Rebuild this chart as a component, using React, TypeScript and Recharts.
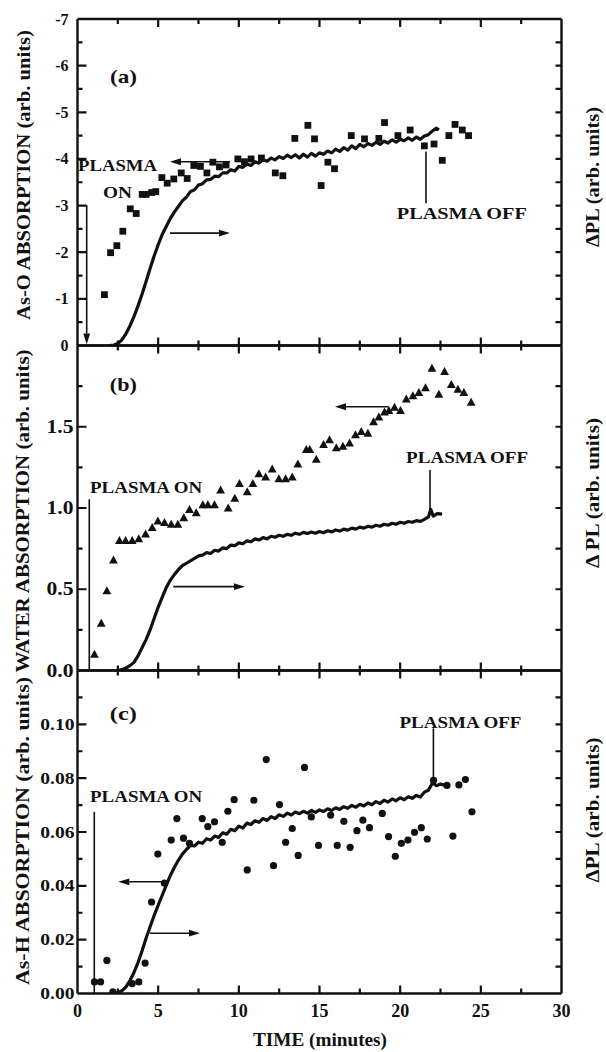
import React from 'react';
import { ComposedChart, Line, Scatter, XAxis, YAxis, ReferenceLine, ReferenceDot } from 'recharts';

const SERIF = '"Liberation Serif", "Times New Roman", serif';
const INK = '#111';

// shared time axis (minutes)
const timeTicks = [0, 2.5, 5, 7.5, 10, 12.5, 15, 17.5, 20, 22.5, 25, 27.5, 30];
const timeMajors = [0, 5, 10, 15, 20, 25, 30];

// (a) As-O absorption, squares (left axis, plotted negative upward)
const asoTime = [1.67, 2.05, 2.44, 2.81, 3.27, 3.64, 4.01, 4.26, 4.6, 4.85, 5.23, 5.56, 5.97, 6.43, 6.8, 7.21, 7.62, 8.02, 8.39, 8.8, 9.21, 9.94, 10.35, 10.76, 11.4, 12.26, 12.73, 13.47, 14.28, 14.69, 15.1, 15.52, 15.93, 16.97, 17.79, 18.68, 19.03, 19.86, 20.62, 21.5, 22.1, 22.61, 23.02, 23.4, 23.85, 24.24];
const asoAbs = [-1.09, -1.99, -2.14, -2.45, -2.93, -2.83, -3.24, -3.24, -3.28, -3.3, -3.6, -3.48, -3.57, -3.7, -3.58, -3.86, -3.84, -3.7, -3.93, -3.83, -3.87, -4.0, -3.94, -4.0, -4.02, -3.7, -3.64, -4.44, -4.72, -4.43, -3.43, -3.93, -3.79, -4.5, -4.43, -4.44, -4.78, -4.5, -4.62, -4.28, -4.32, -3.97, -4.5, -4.74, -4.62, -4.5];

// (a) delta PL trace (right axis)
const plATime = [2.0, 2.25, 2.5, 2.75, 3.0, 3.25, 3.5, 3.75, 4.0, 4.25, 4.5, 4.75, 5.0, 5.25, 5.5, 5.75, 6.0, 6.25, 6.5, 6.75, 7.0, 7.25, 7.5, 7.75, 8.0, 8.25, 8.5, 8.75, 9.0, 9.25, 9.5, 9.75, 10.0, 10.25, 10.5, 10.75, 11.0, 11.25, 11.5, 11.75, 12.0, 12.25, 12.5, 12.75, 13.0, 13.25, 13.5, 13.75, 14.0, 14.25, 14.5, 14.75, 15.0, 15.25, 15.5, 15.75, 16.0, 16.25, 16.5, 16.75, 17.0, 17.25, 17.5, 17.75, 18.0, 18.25, 18.5, 18.75, 19.0, 19.25, 19.5, 19.75, 20.0, 20.25, 20.5, 20.75, 21.0, 21.25, 21.5, 21.75, 22.0, 22.25, 22.4];
const plA = [0.0, 0.01, 0.04, 0.12, 0.25, 0.42, 0.62, 0.85, 1.1, 1.37, 1.65, 1.92, 2.16, 2.38, 2.55, 2.72, 2.86, 2.98, 3.1, 3.18, 3.3, 3.34, 3.44, 3.47, 3.55, 3.56, 3.63, 3.62, 3.7, 3.7, 3.77, 3.74, 3.84, 3.82, 3.89, 3.86, 3.94, 3.91, 3.98, 3.95, 4.02, 3.98, 4.05, 4.01, 4.08, 4.03, 4.09, 4.02, 4.1, 4.04, 4.12, 4.06, 4.13, 4.1, 4.17, 4.13, 4.21, 4.16, 4.24, 4.19, 4.28, 4.22, 4.31, 4.26, 4.33, 4.29, 4.36, 4.31, 4.38, 4.34, 4.41, 4.36, 4.42, 4.39, 4.45, 4.4, 4.47, 4.42, 4.49, 4.52, 4.6, 4.66, 4.62];

// (b) water absorption, triangles
const waterTime = [1.05, 1.47, 1.82, 2.23, 2.6, 2.98, 3.39, 3.8, 4.22, 4.63, 4.98, 5.39, 5.81, 6.22, 6.59, 6.94, 7.36, 7.77, 8.08, 8.49, 8.87, 9.34, 9.75, 10.04, 10.52, 10.87, 11.24, 11.66, 12.07, 12.48, 12.9, 13.31, 13.66, 14.18, 14.4, 14.8, 15.25, 15.62, 16.04, 16.45, 16.86, 17.23, 17.59, 18.0, 18.35, 18.68, 19.03, 19.3, 19.65, 20.02, 20.38, 20.79, 21.16, 21.57, 21.97, 22.4, 22.75, 23.17, 23.58, 23.95, 24.4];
const waterAbs = [0.1, 0.29, 0.49, 0.68, 0.8, 0.8, 0.8, 0.81, 0.84, 0.88, 0.92, 0.91, 0.9, 0.9, 0.94, 0.99, 0.97, 1.02, 1.02, 1.02, 1.11, 1.0, 1.06, 1.15, 1.1, 1.15, 1.21, 1.19, 1.24, 1.18, 1.18, 1.19, 1.27, 1.36, 1.36, 1.3, 1.39, 1.42, 1.37, 1.38, 1.4, 1.45, 1.47, 1.46, 1.53, 1.56, 1.59, 1.6, 1.62, 1.6, 1.67, 1.69, 1.71, 1.74, 1.86, 1.7, 1.84, 1.76, 1.73, 1.71, 1.65];

// (b) delta PL trace
const plBTime = [2.5, 2.75, 3.0, 3.25, 3.5, 3.75, 4.0, 4.25, 4.5, 4.75, 5.0, 5.25, 5.5, 5.75, 6.0, 6.25, 6.5, 6.75, 7.0, 7.25, 7.5, 7.75, 8.0, 8.25, 8.5, 8.75, 9.0, 9.25, 9.5, 9.75, 10.0, 10.25, 10.5, 10.75, 11.0, 11.25, 11.5, 11.75, 12.0, 12.25, 12.5, 12.75, 13.0, 13.25, 13.5, 13.75, 14.0, 14.25, 14.5, 14.75, 15.0, 15.25, 15.5, 15.75, 16.0, 16.25, 16.5, 16.75, 17.0, 17.25, 17.5, 17.75, 18.0, 18.25, 18.5, 18.75, 19.0, 19.25, 19.5, 19.75, 20.0, 20.25, 20.5, 20.75, 21.0, 21.25, 21.5, 21.75, 21.9, 22.05, 22.3, 22.6];
const plB = [0.0, 0.005, 0.015, 0.03, 0.05, 0.09, 0.14, 0.19, 0.25, 0.32, 0.39, 0.45, 0.51, 0.555, 0.59, 0.62, 0.645, 0.66, 0.675, 0.69, 0.705, 0.71, 0.725, 0.72, 0.74, 0.735, 0.755, 0.75, 0.772, 0.768, 0.785, 0.78, 0.798, 0.792, 0.81, 0.803, 0.818, 0.81, 0.826, 0.82, 0.832, 0.826, 0.838, 0.832, 0.845, 0.838, 0.85, 0.843, 0.852, 0.845, 0.855, 0.848, 0.86, 0.853, 0.865, 0.858, 0.87, 0.864, 0.876, 0.87, 0.882, 0.876, 0.888, 0.882, 0.894, 0.888, 0.9, 0.894, 0.906, 0.9, 0.912, 0.906, 0.917, 0.912, 0.922, 0.918, 0.93, 0.945, 0.99, 0.95, 0.965, 0.962];

// (c) As-H absorption, circles
const ashTime = [1.05, 1.43, 1.82, 2.19, 3.39, 3.8, 4.19, 4.59, 4.98, 5.39, 5.81, 6.16, 6.57, 6.94, 7.73, 8.08, 8.49, 8.97, 9.32, 9.71, 10.52, 10.93, 11.7, 12.15, 12.52, 12.9, 13.31, 13.68, 14.07, 14.49, 14.94, 15.69, 16.1, 16.51, 16.9, 17.32, 17.69, 18.1, 18.89, 19.28, 19.7, 20.07, 20.48, 20.89, 21.31, 21.68, 22.07, 22.9, 23.27, 23.64, 24.04, 24.45];
const ashAbs = [0.0043, 0.0043, 0.0123, 0.0006, 0.0037, 0.0043, 0.0113, 0.034, 0.0518, 0.041, 0.057, 0.065, 0.0577, 0.0558, 0.065, 0.062, 0.0638, 0.0562, 0.0677, 0.072, 0.0459, 0.0718, 0.0869, 0.0475, 0.0702, 0.0562, 0.0613, 0.0513, 0.084, 0.0656, 0.055, 0.0663, 0.055, 0.064, 0.0543, 0.0605, 0.0644, 0.0616, 0.0669, 0.0583, 0.051, 0.0558, 0.057, 0.0599, 0.0616, 0.0574, 0.0792, 0.0773, 0.0585, 0.0775, 0.0795, 0.0675];

// (c) delta PL trace
const plCTime = [2.25, 2.5, 2.75, 3.0, 3.25, 3.5, 3.75, 4.0, 4.25, 4.5, 4.75, 5.0, 5.25, 5.5, 5.75, 6.0, 6.25, 6.5, 6.75, 7.0, 7.25, 7.5, 7.75, 8.0, 8.25, 8.5, 8.75, 9.0, 9.25, 9.5, 9.75, 10.0, 10.25, 10.5, 10.75, 11.0, 11.25, 11.5, 11.75, 12.0, 12.25, 12.5, 12.75, 13.0, 13.25, 13.5, 13.75, 14.0, 14.25, 14.5, 14.75, 15.0, 15.25, 15.5, 15.75, 16.0, 16.25, 16.5, 16.75, 17.0, 17.25, 17.5, 17.75, 18.0, 18.25, 18.5, 18.75, 19.0, 19.25, 19.5, 19.75, 20.0, 20.25, 20.5, 20.75, 21.0, 21.25, 21.5, 21.75, 22.0, 22.25, 22.5, 22.75, 22.95];
const plC = [0.0, 0.0004, 0.001, 0.0024, 0.0048, 0.0078, 0.0115, 0.0158, 0.0205, 0.0248, 0.029, 0.0328, 0.0365, 0.0402, 0.0438, 0.0468, 0.0495, 0.0518, 0.0535, 0.055, 0.0548, 0.0562, 0.0558, 0.0575, 0.057, 0.0585, 0.058, 0.0597, 0.0592, 0.061, 0.0605, 0.0622, 0.0615, 0.0633, 0.0628, 0.0642, 0.0636, 0.065, 0.0643, 0.0657, 0.065, 0.0664, 0.0658, 0.067, 0.0663, 0.0674, 0.0668, 0.0677, 0.067, 0.068, 0.0673, 0.0682, 0.0676, 0.0686, 0.068, 0.069, 0.0684, 0.0694, 0.0688, 0.0699, 0.0692, 0.0703, 0.0697, 0.0708, 0.0701, 0.0713, 0.0706, 0.0718, 0.0711, 0.0723, 0.0716, 0.0727, 0.072, 0.0731, 0.0725, 0.0736, 0.073, 0.0748, 0.0755, 0.0782, 0.0772, 0.0778, 0.0774, 0.0777];

const zip = (xs: number[], ys: number[]) => xs.map((x, i) => ({ x, y: ys[i] }));

// ---------- layout ----------
const W = 606;
const PLOT_L = 77.5;
const PLOT_R = 561.5;
const LEFT_W = PLOT_L;
const RIGHT_W = W - PLOT_R;

// ---------- drawing helpers ----------
const glyphEm = (s: string) => [...s].reduce((a, c) => a + (c === '.' ? 0.25 : c === '-' ? 0.333 : 0.5), 0);
const near = (list: number[], v: number) => list.some((m) => Math.abs(m - v) < 1e-6);

interface LabelOpts { fmt: (v: number) => string; fs: number; stretch: number; gap: number }

const makeLabel = (side: 'left' | 'bottom', majors: number[], lab?: LabelOpts) => (p: any) => {
  const v = Number(p.payload?.value);
  if (!lab || !near(majors, v)) return <g />;
  const x = Number(p.x);
  const y = Number(p.y);
  const s = lab.fmt(v);
  const w = glyphEm(s) * lab.fs * lab.stretch;
  const common = {
    fontFamily: SERIF, fontSize: lab.fs, fontWeight: 'bold' as const, fill: INK, stroke: 'none',
    textLength: w, lengthAdjust: 'spacingAndGlyphs' as const, dominantBaseline: 'central' as const,
  };
  return side === 'left'
    ? <text x={x - lab.gap} y={y} textAnchor="end" {...common}>{s}</text>
    : <text x={x} y={y + lab.gap} textAnchor="middle" {...common}>{s}</text>;
};

const Square = (p: any) => <rect x={p.cx - 3.4} y={p.cy - 3.4} width={6.8} height={6.8} fill={INK} />;
const Tri = (p: any) => (
  <polygon points={`${p.cx},${p.cy - 4.6} ${p.cx + 4.4},${p.cy + 3.4} ${p.cx - 4.4},${p.cy + 3.4}`} fill={INK} />
);
const Dot = (p: any) => <circle cx={p.cx} cy={p.cy} r={3.6} fill={INK} />;

const arrowShape = (head: boolean) => (p: any) => {
  const x1 = Number(p.x1);
  const y1 = Number(p.y1);
  const x2 = Number(p.x2);
  const y2 = Number(p.y2);
  const dx = x2 - x1;
  const dy = y2 - y1;
  const L = Math.hypot(dx, dy) || 1;
  const ux = dx / L;
  const uy = dy / L;
  const hl = 11;
  const hw = 3.4;
  const bx = x2 - ux * hl;
  const by = y2 - uy * hl;
  return (
    <g>
      <line x1={x1} y1={y1} x2={head ? bx : x2} y2={head ? by : y2} stroke={INK} strokeWidth={1.6} />
      {head && (
        <polygon points={`${x2},${y2} ${bx - uy * hw},${by + ux * hw} ${bx + uy * hw},${by - ux * hw}`} fill={INK} />
      )}
    </g>
  );
};

const textShape = (label: string, w: number, fs = 17) => (p: any) => (
  <text
    x={p.cx}
    y={p.cy}
    textAnchor="middle"
    dominantBaseline="central"
    fontFamily={SERIF}
    fontWeight="bold"
    fontSize={fs}
    textLength={w}
    lengthAdjust="spacingAndGlyphs"
    fill={INK}
  >
    {label}
  </text>
);

interface Note { kind: 'arrow' | 'line' | 'text'; pts?: [number, number][]; x?: number; y?: number; label?: string; w?: number; fs?: number }

interface PanelSpec {
  top: number;
  height: number;
  margin: { top: number; bottom: number };
  leftDomain: [number, number];
  reversed?: boolean;
  leftTicks: number[];
  leftMajors: number[];
  leftLabel: LabelOpts;
  rightDomain: [number, number];
}

interface PanelProps extends PanelSpec {
  points: { x: number; y: number }[];
  shape: (p: any) => React.ReactElement;
  trace: { x: number; y: number }[];
  notes: Note[];
  showTime?: boolean;
}

const FRAME = 2.4;

const Panel = (pp: PanelProps) => {
  const [lo, hi] = pp.leftDomain;
  return (
    <div style={{ position: 'absolute', left: 0, top: pp.top }}>
      <ComposedChart width={W} height={pp.height} margin={{ top: pp.margin.top, bottom: pp.margin.bottom, left: 0, right: 0 }}>
        <XAxis
          dataKey="x"
          type="number"
          domain={[0, 30]}
          ticks={timeTicks}
          interval={0}
          allowDataOverflow
          height={1}
          tickSize={0}
          tickMargin={0}
          tickLine={false}
          axisLine={false}
          tick={pp.showTime ? makeLabel('bottom', timeMajors, { fmt: (v) => String(v), fs: 18, stretch: 1.0, gap: 17 }) : false}
        />
        <YAxis
          yAxisId="L"
          type="number"
          domain={pp.leftDomain}
          reversed={pp.reversed}
          ticks={pp.leftTicks}
          interval={0}
          allowDataOverflow
          width={LEFT_W}
          tickSize={0}
          tickMargin={0}
          tickLine={false}
          axisLine={false}
          tick={makeLabel('left', pp.leftMajors, pp.leftLabel)}
        />
        <YAxis
          yAxisId="R"
          orientation="right"
          type="number"
          domain={pp.rightDomain}
          allowDataOverflow
          width={RIGHT_W}
          tick={false}
          tickLine={false}
          axisLine={false}
        />
        {/* plot frame */}
        <ReferenceLine x={0} yAxisId="L" stroke={INK} strokeWidth={FRAME} />
        <ReferenceLine x={30} yAxisId="L" stroke={INK} strokeWidth={FRAME} />
        <ReferenceLine y={lo} yAxisId="L" stroke={INK} strokeWidth={FRAME} />
        <ReferenceLine y={hi} yAxisId="L" stroke={INK} strokeWidth={FRAME} />
        <Line
          data={pp.trace}
          dataKey="y"
          yAxisId="R"
          type="linear"
          stroke={INK}
          strokeWidth={3.2}
          strokeLinejoin="round"
          dot={false}
          activeDot={false}
          isAnimationActive={false}
        />
        <Scatter data={pp.points} dataKey="y" yAxisId="L" shape={pp.shape} isAnimationActive={false} />
        {pp.notes.map((n, i) =>
          n.kind === 'text' ? (
            <ReferenceDot key={i} x={n.x!} y={n.y!} yAxisId="L" r={0} shape={textShape(n.label!, n.w!, n.fs)} />
          ) : (
            <ReferenceLine
              key={i}
              yAxisId="L"
              segment={[{ x: n.pts![0][0], y: n.pts![0][1] }, { x: n.pts![1][0], y: n.pts![1][1] }]}
              shape={arrowShape(n.kind === 'arrow')}
            />
          ),
        )}
      </ComposedChart>
    </div>
  );
};

// inward tick marks on all four sides of a panel, same linear mapping as the chart axes
const PanelTicks = ({ spec }: { spec: PanelSpec }) => {
  const top = spec.top + spec.margin.top;
  const bottom = spec.top + spec.height - spec.margin.bottom - 1;
  const [lo, hi] = spec.leftDomain;
  const yOf = (v: number) => {
    const f = (v - lo) / (hi - lo);
    return spec.reversed ? top + f * (bottom - top) : bottom - f * (bottom - top);
  };
  const xOf = (t: number) => PLOT_L + (t / 30) * (PLOT_R - PLOT_L);
  let d = '';
  timeTicks
    .filter((t) => t > 0 && t < 30)
    .forEach((t) => {
      const len = near(timeMajors, t) ? 8 : 5;
      const x = xOf(t).toFixed(2);
      d += `M${x} ${top} V${top + len} M${x} ${bottom} V${bottom - len} `;
    });
  spec.leftTicks
    .filter((v) => v > lo + 1e-9 && v < hi - 1e-9)
    .forEach((v) => {
      const len = near(spec.leftMajors, v) ? 9 : 5;
      const y = yOf(v).toFixed(2);
      d += `M${PLOT_L} ${y} H${PLOT_L + len} M${PLOT_R} ${y} H${PLOT_R - 6} `;
    });
  return <path d={d} stroke={INK} strokeWidth={2.2} fill="none" />;
};

const specA: PanelSpec = {
  top: 0,
  height: 360,
  margin: { top: 19, bottom: 13.5 },
  leftDomain: [-7, 0],
  reversed: true,
  leftTicks: [-7, -6.5, -6, -5.5, -5, -4.5, -4, -3.5, -3, -2.5, -2, -1.5, -1, -0.5, 0],
  leftMajors: [-7, -6, -5, -4, -3, -2, -1, 0],
  leftLabel: { fmt: (v) => (v === 0 ? '0' : String(v)), fs: 16, stretch: 1.0, gap: 9 },
  rightDomain: [0, 7],
};

const specB: PanelSpec = {
  top: 330,
  height: 355,
  margin: { top: 15.5, bottom: 13.5 },
  leftDomain: [0, 2],
  leftTicks: [0, 0.25, 0.5, 0.75, 1, 1.25, 1.5, 1.75, 2],
  leftMajors: [0, 0.5, 1, 1.5],
  leftLabel: { fmt: (v) => v.toFixed(1), fs: 18, stretch: 1.2, gap: 4 },
  rightDomain: [0, 2],
};

const specC: PanelSpec = {
  top: 655,
  height: 397,
  margin: { top: 15.5, bottom: 57.5 },
  leftDomain: [0, 0.12],
  leftTicks: [0, 0.01, 0.02, 0.03, 0.04, 0.05, 0.06, 0.07, 0.08, 0.09, 0.1, 0.11],
  leftMajors: [0, 0.02, 0.04, 0.06, 0.08, 0.1],
  leftLabel: { fmt: (v) => v.toFixed(2), fs: 17, stretch: 1.15, gap: 3 },
  rightDomain: [0, 0.12],
};

const titleProps = {
  fontFamily: SERIF,
  fontWeight: 'bold' as const,
  fontSize: 18,
  fill: INK,
  textAnchor: 'middle' as const,
  dominantBaseline: 'central' as const,
  lengthAdjust: 'spacingAndGlyphs' as const,
};

const VTitle = ({ x, y, len, children }: { x: number; y: number; len: number; children: React.ReactNode }) => (
  <text transform={`translate(${x},${y}) rotate(-90)`} textLength={len} {...titleProps}>
    {children}
  </text>
);

export default function App() {
  return (
    <div style={{ position: 'absolute', left: 0, top: 0, width: W, height: 1052, background: '#fff' }}>
      <Panel
        {...specA}
        points={zip(asoTime, asoAbs)}
        shape={Square}
        trace={zip(plATime, plA)}
        notes={[
          { kind: 'text', x: 2.85, y: -5.76, label: '(a)', w: 27, fs: 19 },
          { kind: 'text', x: 2.48, y: -3.85, label: 'PLASMA', w: 79 },
          { kind: 'text', x: 2.48, y: -3.28, label: 'ON', w: 29 },
          { kind: 'arrow', pts: [[0.57, -3.01], [0.57, -0.02]] },
          { kind: 'arrow', pts: [[9.45, -3.94], [5.73, -3.94]] },
          { kind: 'arrow', pts: [[5.73, -2.41], [9.45, -2.41]] },
          { kind: 'line', pts: [[21.6, -4.16], [21.6, -3.05]] },
          { kind: 'text', x: 23.82, y: -2.82, label: 'PLASMA  OFF', w: 130 },
        ]}
      />
      <Panel
        {...specB}
        points={zip(waterTime, waterAbs)}
        shape={Tri}
        trace={zip(plBTime, plB)}
        notes={[
          { kind: 'text', x: 2.84, y: 1.757, label: '(b)', w: 27, fs: 19 },
          { kind: 'text', x: 4.25, y: 1.129, label: 'PLASMA ON', w: 112 },
          { kind: 'line', pts: [[0.73, 1.054], [0.73, 0]] },
          { kind: 'arrow', pts: [[5.94, 0.516], [10.38, 0.516]] },
          { kind: 'arrow', pts: [[19.27, 1.623], [15.96, 1.623]] },
          { kind: 'text', x: 24.15, y: 1.311, label: 'PLASMA OFF', w: 122 },
          { kind: 'line', pts: [[21.85, 1.234], [21.85, 0.988]] },
        ]}
      />
      <Panel
        {...specC}
        points={zip(ashTime, ashAbs)}
        shape={Dot}
        trace={zip(plCTime, plC)}
        showTime
        notes={[
          { kind: 'text', x: 2.84, y: 0.1042, label: '(c)', w: 27, fs: 19 },
          { kind: 'text', x: 4.25, y: 0.0732, label: 'PLASMA ON', w: 112 },
          { kind: 'line', pts: [[1.04, 0.0675], [1.04, 0]] },
          { kind: 'arrow', pts: [[5.63, 0.0415], [2.53, 0.0415]] },
          { kind: 'arrow', pts: [[4.49, 0.0224], [7.59, 0.0224]] },
          { kind: 'text', x: 23.74, y: 0.1005, label: 'PLASMA OFF', w: 122 },
          { kind: 'line', pts: [[22.06, 0.0985], [22.06, 0.0799]] },
        ]}
      />
      <svg width={W} height={1052} style={{ position: 'absolute', left: 0, top: 0, pointerEvents: 'none' }}>
        <PanelTicks spec={specA} />
        <PanelTicks spec={specB} />
        <PanelTicks spec={specC} />
        <VTitle x={24} y={175} len={290}>As-O ABSORPTION (arb. units)</VTitle>
        <VTitle x={23} y={511} len={323}>WATER  ABSORPTION (arb. units)</VTitle>
        <VTitle x={23} y={831} len={308}>As-H ABSORPTION  (arb. units)</VTitle>
        <VTitle x={593} y={177} len={140}>ΔPL (arb. units)</VTitle>
        <VTitle x={593} y={493} len={150}>Δ PL (arb. units)</VTitle>
        <VTitle x={593} y={810} len={145}>ΔPL (arb. units)</VTitle>
        <text x={320} y={1040} textLength={134} {...titleProps}>
          TIME (minutes)
        </text>
      </svg>
    </div>
  );
}
